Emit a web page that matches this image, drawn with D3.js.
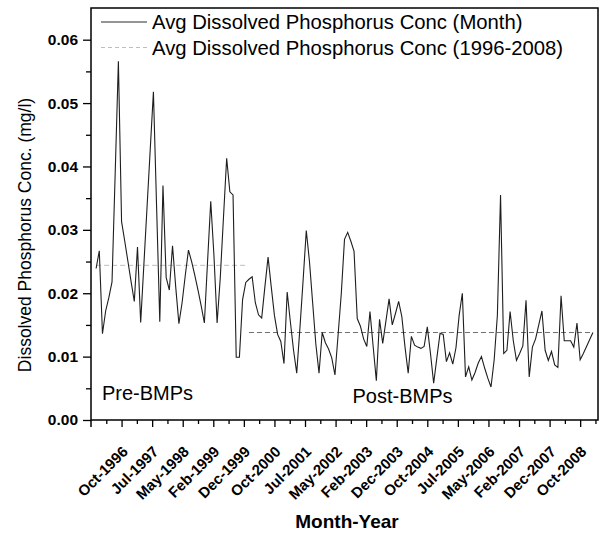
<!DOCTYPE html>
<html><head><meta charset="utf-8">
<script src="https://cdn.jsdelivr.net/npm/d3@7"></script>
<style>
body{margin:0;background:#fff}
svg{display:block}
text{font-family:"Liberation Sans",Arial,Helvetica,sans-serif;fill:#000}
</style>
</head><body>
<svg id="chart" width="606" height="536"></svg>
<script>
// ---- data ----
// months counted from Oct-1996 (= 0); first observation is Feb-1996
const firstMonth = -8;
const monthlyConc = [
  0.0239,0.0267,0.0136,0.0172,0.0193,0.0218,0.0390,0.0566,
  0.0313,0.0282,0.0250,0.0218,0.0187,0.0273,0.0154,0.0245,0.0336,0.0427,0.0518,0.0336,
  0.0155,0.0370,0.0225,0.0205,0.0275,0.0210,0.0152,0.0185,0.0228,0.0268,0.0250,0.0228,
  0.0205,0.0180,0.0153,0.0250,0.0345,0.0260,0.0153,0.0225,0.0320,0.0413,0.0360,0.0355,
  0.0099,0.0099,0.0190,0.0217,0.0222,0.0226,0.0185,0.0166,0.0161,0.0210,0.0257,0.0210,
  0.0165,0.0135,0.0124,0.0089,0.0202,0.0155,0.0110,0.0074,0.0145,0.0220,0.0299,0.0250,
  0.0185,0.0120,0.0074,0.0138,0.0122,0.0112,0.0098,0.0071,0.0135,0.0200,0.0285,0.0296,
  0.0282,0.0266,0.0160,0.0148,0.0128,0.0116,0.0171,0.0116,0.0062,0.0159,0.0121,0.0156,
  0.0191,0.0150,0.0168,0.0187,0.0163,0.0115,0.0074,0.0132,0.0118,0.0115,0.0113,0.0116,
  0.0147,0.0105,0.0058,0.0098,0.0137,0.0135,0.0092,0.0106,0.0088,0.0114,0.0165,0.0200,
  0.0068,0.0084,0.0063,0.0075,0.0090,0.0100,0.0082,0.0066,0.0052,0.0095,0.0165,0.0355,
  0.0105,0.0110,0.0171,0.0125,0.0094,0.0105,0.0117,0.0189,0.0068,0.0115,0.0128,0.0150,
  0.0172,0.0110,0.0094,0.0108,0.0087,0.0083,0.0196,0.0125,0.0125,0.0125,0.0115,0.0153,
  0.0095,0.0105,0.0116,0.0127,0.0138
];
const meanPeriods = [
  {from: -8, to: 39, value: 0.0244, color: "#bdbdbd"},
  {from: 40, to: 148, value: 0.0138, color: "#6e6e6e"}
];
const periodLabels = ["Pre-BMPs", "Post-BMPs"];
const xTickLabels = ["Oct-1996","Jul-1997","May-1998","Feb-1999","Dec-1999","Oct-2000",
  "Jul-2001","May-2002","Feb-2003","Dec-2003","Oct-2004","Jul-2005","May-2006",
  "Feb-2007","Dec-2007","Oct-2008"];
const xTickStep = 9.6;
const yTicks = [0, 0.01, 0.02, 0.03, 0.04, 0.05, 0.06];
const legendLabels = ["Avg Dissolved Phosphorus Conc (Month)", "Avg Dissolved Phosphorus Conc (1996-2008)"];
const yTitle = "Dissolved Phosphorus Conc. (mg/l)";
const xTitle = "Month-Year";

// ---- layout ----
const L = 91, R = 598, T = 8, B = 420;
const svg = d3.select("#chart");
const x = d3.scaleLinear().domain([-9.6, 149.6]).range([L, R]);
const y = d3.scaleLinear().domain([0, 0.065]).range([B, T]);

// y axis (major + minor)
const yAx = svg.append("g").attr("transform", `translate(${L},0)`)
  .call(d3.axisLeft(y).tickValues(yTicks).tickFormat(d3.format(".2f")).tickSize(8).tickPadding(5));
yAx.select(".domain").remove();
yAx.selectAll("line").attr("stroke", "#000").attr("stroke-width", 1.3);
yAx.selectAll("text").attr("font-size", 15.5).attr("font-weight", "bold").attr("fill", "#000");
const yMin = svg.append("g").attr("transform", `translate(${L},0)`)
  .call(d3.axisLeft(y).tickValues(yTicks.slice(0, -1).map(v => v + 0.005)).tickFormat("").tickSize(5));
yMin.select(".domain").remove();
yMin.selectAll("line").attr("stroke", "#000").attr("stroke-width", 1.3);

// x axis (major + minor)
const xMajor = xTickLabels.map((_, i) => i * xTickStep);
const xAx = svg.append("g").attr("transform", `translate(0,${B})`)
  .call(d3.axisBottom(x).tickValues(xMajor).tickFormat((d, i) => xTickLabels[i]).tickSize(7));
xAx.select(".domain").remove();
xAx.selectAll("line").attr("stroke", "#000").attr("stroke-width", 1.3);
xAx.selectAll("text")
  .attr("font-size", 15).attr("font-weight", "bold").attr("fill", "#000")
  .attr("text-anchor", "end").attr("x", 0).attr("y", 0).attr("dy", "0.35em")
  .attr("transform", "translate(3,29) rotate(-45)");
const xMin = svg.append("g").attr("transform", `translate(0,${B})`)
  .call(d3.axisBottom(x).tickValues(d3.range(xTickLabels.length + 1).map(i => i * xTickStep - xTickStep / 2)).tickFormat("").tickSize(4));
xMin.select(".domain").remove();
xMin.selectAll("line").attr("stroke", "#000").attr("stroke-width", 1.3);

// mean lines
svg.append("g").selectAll("line").data(meanPeriods).join("line")
  .attr("x1", d => x(d.from)).attr("x2", d => x(d.to))
  .attr("y1", d => y(d.value)).attr("y2", d => y(d.value))
  .attr("stroke", d => d.color).attr("stroke-width", 1).attr("stroke-dasharray", "5,3");

// monthly series
const line = d3.line().x((d, i) => x(firstMonth + i)).y(d => y(d));
svg.append("path").datum(monthlyConc).attr("d", line)
  .attr("fill", "none").attr("stroke", "#1e1e1e").attr("stroke-width", 1.1);

// frame
svg.append("rect").attr("x", L).attr("y", T).attr("width", R - L).attr("height", B - T)
  .attr("fill", "none").attr("stroke", "#000").attr("stroke-width", 1.5);
svg.append("line").attr("x1", L).attr("x2", L).attr("y1", B).attr("y2", B + 7)
  .attr("stroke", "#000").attr("stroke-width", 1.5);

// legend
const lg = svg.append("g");
lg.append("line").attr("x1", 101).attr("x2", 147).attr("y1", 22).attr("y2", 22)
  .attr("stroke", "#2a2a2a").attr("stroke-width", 1);
lg.append("line").attr("x1", 101).attr("x2", 147).attr("y1", 47.5).attr("y2", 47.5)
  .attr("stroke", "#bdbdbd").attr("stroke-width", 1).attr("stroke-dasharray", "4,3");
lg.selectAll("text").data(legendLabels).join("text")
  .attr("x", 152).attr("y", (d, i) => 29 + i * 25.5)
  .attr("font-size", 20.3).text(d => d);

// period labels
svg.append("text").attr("x", 102).attr("y", 400).attr("font-size", 20).text(periodLabels[0]);
svg.append("text").attr("x", 352.5).attr("y", 403).attr("font-size", 20).text(periodLabels[1]);

// axis titles
svg.append("text").attr("transform", "translate(31,235) rotate(-90)")
  .attr("text-anchor", "middle").attr("font-size", 17.5).text(yTitle);
svg.append("text").attr("x", 347).attr("y", 528).attr("text-anchor", "middle")
  .attr("font-size", 19).attr("font-weight", "bold").text(xTitle);
</script>
</body></html>
